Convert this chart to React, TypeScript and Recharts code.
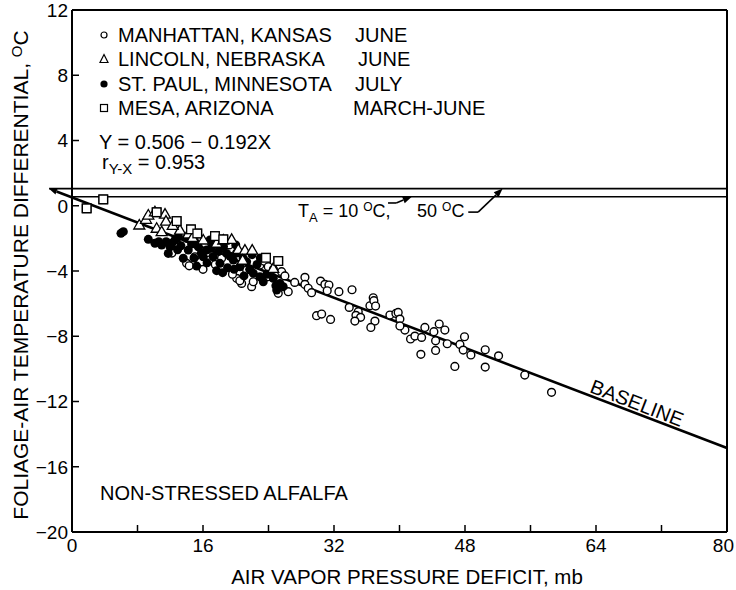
import React from 'react';
import { ScatterChart, Scatter, XAxis, YAxis, ReferenceLine } from 'recharts';

const FONT = '"Liberation Sans", Arial, Helvetica, sans-serif';

const xTicks = [0, 8, 16, 24, 32, 40, 48, 56, 64, 72, 80];
const xLabelTicks = [0, 16, 32, 48, 64, 80];
const yTicks = [-20, -16, -12, -8, -4, 0, 4, 8, 12];

const legendSites = ['MANHATTAN, KANSAS', 'LINCOLN, NEBRASKA', 'ST. PAUL, MINNESOTA', 'MESA, ARIZONA'];
const legendMonths = ['JUNE', 'JUNE', 'JULY', 'MARCH-JUNE'];

// regression: Y = 0.506 - 0.192X
const intercept = 0.506;
const slope = -0.192;
const baselineX = [-2.8, 80];

const tempLineUpper = 1.05; // T_A = 50 C
const tempLineLower = 0.55; // T_A = 10 C

const manhattan = [
  { x: 12.98, y: -2.41 }, { x: 14.0, y: -3.53 }, { x: 14.32, y: -3.68 }, { x: 15.02, y: -3.13 },
  { x: 16.4, y: -2.9 }, { x: 17.06, y: -2.3 }, { x: 17.5, y: -3.6 }, { x: 18.27, y: -3.22 },
  { x: 19.2, y: -2.4 }, { x: 20.11, y: -4.45 }, { x: 20.72, y: -4.76 }, { x: 20.5, y: -4.6 },
  { x: 21.33, y: -3.94 }, { x: 21.94, y: -4.96 }, { x: 22.14, y: -4.66 }, { x: 22.95, y: -3.63 },
  { x: 23.5, y: -3.4 }, { x: 23.97, y: -3.74 }, { x: 23.97, y: -4.35 }, { x: 24.6, y: -3.9 },
  { x: 25.6, y: -4.04 }, { x: 25.19, y: -5.37 }, { x: 26.41, y: -5.27 }, { x: 26.0, y: -4.3 },
  { x: 27.2, y: -4.7 }, { x: 16.0, y: -3.9 }, { x: 19.6, y: -4.2 }, { x: 12.2, y: -2.9 },
  { x: 28.45, y: -4.39 }, { x: 28.45, y: -4.82 }, { x: 28.85, y: -5.06 }, { x: 29.26, y: -5.33 },
  { x: 30.36, y: -4.62 }, { x: 30.89, y: -4.82 }, { x: 31.38, y: -4.86 }, { x: 31.17, y: -5.21 },
  { x: 32.6, y: -5.27 }, { x: 34.2, y: -5.15 }, { x: 29.87, y: -6.74 }, { x: 30.49, y: -6.64 },
  { x: 31.58, y: -6.97 }, { x: 33.86, y: -6.23 }, { x: 34.96, y: -6.5 }, { x: 34.68, y: -6.72 },
  { x: 35.25, y: -6.84 }, { x: 34.55, y: -7.07 }, { x: 36.39, y: -6.13 }, { x: 36.79, y: -5.64 },
  { x: 36.87, y: -5.82 }, { x: 37.08, y: -6.15 }, { x: 37.0, y: -7.07 }, { x: 36.5, y: -7.46 },
  { x: 38.83, y: -6.7 }, { x: 39.56, y: -6.6 }, { x: 39.84, y: -6.54 }, { x: 40.05, y: -6.95 },
  { x: 40.66, y: -7.62 }, { x: 40.05, y: -7.37 }, { x: 41.35, y: -8.17 }, { x: 41.88, y: -7.99 },
  { x: 42.7, y: -8.07 }, { x: 43.1, y: -7.46 }, { x: 42.61, y: -9.11 }, { x: 44.2, y: -7.72 },
  { x: 44.41, y: -8.28 }, { x: 44.41, y: -8.87 }, { x: 44.85, y: -7.25 }, { x: 45.54, y: -7.62 },
  { x: 45.83, y: -8.46 }, { x: 46.76, y: -9.85 }, { x: 47.38, y: -8.5 }, { x: 47.78, y: -8.85 },
  { x: 47.94, y: -8.03 }, { x: 48.72, y: -9.15 }, { x: 50.47, y: -8.83 }, { x: 50.47, y: -9.89 },
  { x: 52.1, y: -9.2 }, { x: 55.3, y: -10.38 }, { x: 58.57, y: -11.44 },
];

const stPaul = [
  { x: 5.98, y: -1.69 }, { x: 6.27, y: -1.59 }, { x: 9.32, y: -2.06 }, { x: 10.13, y: -2.3 },
  { x: 10.6, y: -2.2 }, { x: 10.95, y: -2.41 }, { x: 11.5, y: -2.2 }, { x: 11.97, y: -2.51 },
  { x: 11.76, y: -2.92 }, { x: 12.58, y: -2.1 }, { x: 12.9, y: -2.7 }, { x: 13.3, y: -2.45 },
  { x: 13.59, y: -3.22 }, { x: 14.0, y: -2.0 }, { x: 14.2, y: -2.72 }, { x: 14.6, y: -2.35 },
  { x: 15.23, y: -3.7 }, { x: 15.42, y: -2.51 }, { x: 15.8, y: -2.9 }, { x: 16.03, y: -3.13 },
  { x: 16.44, y: -2.72 }, { x: 16.85, y: -2.1 }, { x: 17.0, y: -2.6 }, { x: 17.25, y: -3.13 },
  { x: 17.66, y: -3.98 }, { x: 17.9, y: -2.8 }, { x: 18.07, y: -3.53 }, { x: 18.5, y: -2.5 },
  { x: 18.88, y: -2.92 }, { x: 19.3, y: -3.1 }, { x: 19.7, y: -3.33 }, { x: 20.1, y: -2.9 },
  { x: 20.51, y: -3.74 }, { x: 20.9, y: -3.2 }, { x: 21.33, y: -3.43 }, { x: 21.7, y: -3.9 },
  { x: 22.14, y: -4.14 }, { x: 22.6, y: -3.6 }, { x: 22.95, y: -4.35 }, { x: 23.36, y: -4.66 },
  { x: 23.8, y: -4.2 }, { x: 24.58, y: -4.45 }, { x: 24.9, y: -4.9 }, { x: 25.4, y: -4.76 },
  { x: 25.8, y: -4.96 }, { x: 25.0, y: -5.17 }, { x: 19.0, y: -3.8 }, { x: 16.5, y: -3.5 },
  { x: 13.0, y: -1.9 }, { x: 15.0, y: -2.2 }, { x: 21.0, y: -4.3 }, { x: 23.0, y: -3.2 },
  { x: 18.4, y: -4.1 }, { x: 20.0, y: -2.4 }, { x: 14.9, y: -3.2 }, { x: 12.2, y: -2.3 },
  { x: 17.3, y: -2.3 }, { x: 19.8, y: -3.9 }, { x: 22.0, y: -3.0 },
];

const lincoln = [
  { x: 8.22, y: -1.18 }, { x: 9.04, y: -0.83 }, { x: 9.32, y: -0.57 }, { x: 10.13, y: -0.37 },
  { x: 11.36, y: -0.51 }, { x: 11.48, y: -0.94 }, { x: 10.34, y: -1.38 }, { x: 10.95, y: -1.59 },
  { x: 13.19, y: -1.49 }, { x: 14.2, y: -1.73 }, { x: 14.73, y: -1.94 }, { x: 16.03, y: -2.1 },
  { x: 17.66, y: -2.3 }, { x: 18.48, y: -2.1 }, { x: 19.5, y: -2.06 }, { x: 20.31, y: -2.67 },
  { x: 21.12, y: -2.72 }, { x: 22.01, y: -2.72 }, { x: 20.84, y: -3.33 }, { x: 24.58, y: -3.84 },
  { x: 12.3, y: -1.2 },
];

const mesa = [
  { x: 1.79, y: -0.16 }, { x: 3.82, y: 0.39 }, { x: 10.34, y: -0.4 }, { x: 12.78, y: -0.94 },
  { x: 14.53, y: -1.45 }, { x: 17.46, y: -1.86 }, { x: 18.48, y: -2.06 }, { x: 23.69, y: -3.19 },
  { x: 25.19, y: -3.39 }, { x: 15.3, y: -1.7 },
];

const fmt = (v: number) => (v < 0 ? '\u2212' + Math.abs(v) : String(v));

const BottomTick = (p: any) => {
  const v = p.payload.value;
  const last = v === 80;
  return (
    <g>
      <line x1={p.x} y1={p.y} x2={p.x} y2={p.y - 7} stroke="#000" strokeWidth={1.5} />
      {xLabelTicks.includes(v) && (
        <text
          x={last ? p.x + 7 : p.x}
          y={p.y + 20}
          textAnchor={last ? 'end' : 'middle'}
          fontSize={19}
          fontFamily={FONT}
          fill="#000"
        >
          {fmt(v)}
        </text>
      )}
    </g>
  );
};
const LeftTick = (p: any) => (
  <g>
    <line x1={p.x} y1={p.y} x2={p.x + 7} y2={p.y} stroke="#000" strokeWidth={1.5} />
    <text x={p.x - 4} y={p.y} dy="0.36em" textAnchor="end" fontSize={19} fontFamily={FONT} fill="#000">
      {fmt(p.payload.value)}
    </text>
  </g>
);

const arrowLine = (p: any) => {
  const { x1, y1, x2, y2 } = p;
  const dx = x2 - x1;
  const dy = y2 - y1;
  const len = Math.sqrt(dx * dx + dy * dy) || 1;
  const ux = dx / len;
  const uy = dy / len;
  const L = 9;
  const W = 3.5;
  const bx = x2 - ux * L;
  const by = y2 - uy * L;
  const pts = `${x2},${y2} ${bx - uy * W},${by + ux * W} ${bx + uy * W},${by - ux * W}`;
  return (
    <g>
      <line x1={x1} y1={y1} x2={bx} y2={by} stroke="#000" strokeWidth={1.6} />
      <polygon points={pts} fill="#000" />
    </g>
  );
};

const baselineShape = (p: any) => {
  const { x1, y1, x2, y2 } = p;
  const dx = x1 - x2;
  const dy = y1 - y2;
  const len = Math.sqrt(dx * dx + dy * dy) || 1;
  const ux = dx / len;
  const uy = dy / len;
  const L = 8;
  const W = 3;
  const bx = x1 - ux * L;
  const by = y1 - uy * L;
  const pts = `${x1},${y1} ${bx - uy * W},${by + ux * W} ${bx + uy * W},${by - ux * W}`;
  return (
    <g>
      <line x1={bx} y1={by} x2={x2} y2={y2} stroke="#000" strokeWidth={2.6} />
      <polygon points={pts} fill="#000" />
    </g>
  );
};

const OpenCircle = (p: any) => (
  <circle cx={p.cx} cy={p.cy} r={3.9} fill="#fff" stroke="#000" strokeWidth={1.4} />
);
const FilledCircle = (p: any) => <circle cx={p.cx} cy={p.cy} r={4.5} fill="#000" stroke="none" />;
const OpenTriangle = (p: any) => (
  <polygon
    points={`${p.cx},${p.cy - 5.5} ${p.cx + 5.5},${p.cy + 4} ${p.cx - 5.5},${p.cy + 4}`}
    fill="#fff"
    stroke="#000"
    strokeWidth={1.3}
  />
);
const OpenSquare = (p: any) => (
  <rect x={p.cx - 4.3} y={p.cy - 4.3} width={8.6} height={8.6} fill="#fff" stroke="#000" strokeWidth={1.3} />
);

const LegendSymbol = ({ i }: { i: number }) => (
  <svg width={14} height={14} style={{ position: 'absolute', left: -21, top: 3 }}>
    {i === 0 && <circle cx={7} cy={7} r={3} fill="#fff" stroke="#000" strokeWidth={1.2} />}
    {i === 1 && <polygon points="7,2.5 11,10.5 3,10.5" fill="#fff" stroke="#000" strokeWidth={1.2} />}
    {i === 2 && <circle cx={7} cy={7} r={3.6} fill="#000" />}
    {i === 3 && <rect x={3.5} y={3.5} width={7} height={7} fill="#fff" stroke="#000" strokeWidth={1.2} />}
  </svg>
);

const legendCenters = [35, 59, 84, 108];
const monthLefts = [355, 358, 355, 353];

export default function App() {
  const baselineSeg = baselineX.map((x) => ({ x, y: intercept + slope * x }));
  const text: React.CSSProperties = {
    position: 'absolute',
    fontSize: 20,
    lineHeight: '20px',
    whiteSpace: 'nowrap',
    color: '#000',
    fontFamily: FONT,
  };
  return (
    <div style={{ position: 'absolute', left: 0, top: 0, width: 736, height: 590, background: '#fff', fontFamily: FONT }}>
      <ScatterChart width={736} height={590} margin={{ top: 0, right: 0, bottom: 0, left: 0 }}>
        <XAxis
          xAxisId="b"
          type="number"
          dataKey="x"
          domain={[0, 80]}
          ticks={xTicks}
          orientation="bottom"
          height={58}
          axisLine={{ stroke: '#000', strokeWidth: 2 }}
          tickLine={false}
          tickSize={0}
          tickMargin={0}
          tick={<BottomTick />}
          interval={0}
          allowDataOverflow
        />
        <XAxis
          xAxisId="t"
          type="number"
          dataKey="x"
          domain={[0, 80]}
          ticks={xTicks}
          orientation="top"
          height={10}
          axisLine={{ stroke: '#000', strokeWidth: 2 }}
          tickLine={{ stroke: '#000', strokeWidth: 1.5 }}
          tickSize={-7}
          tick={false}
          interval={0}
          allowDataOverflow
        />
        <YAxis
          yAxisId="l"
          type="number"
          dataKey="y"
          domain={[-20, 12]}
          ticks={yTicks}
          orientation="left"
          width={72}
          axisLine={{ stroke: '#000', strokeWidth: 2 }}
          tickLine={false}
          tickSize={0}
          tickMargin={0}
          tick={<LeftTick />}
          interval={0}
          allowDataOverflow
        />
        <YAxis
          yAxisId="r"
          type="number"
          dataKey="y"
          domain={[-20, 12]}
          ticks={yTicks}
          orientation="right"
          width={9}
          axisLine={{ stroke: '#000', strokeWidth: 2 }}
          tickLine={{ stroke: '#000', strokeWidth: 1.5 }}
          tickSize={-7}
          tick={false}
          interval={0}
          allowDataOverflow
        />
        <ReferenceLine
          xAxisId="b"
          yAxisId="l"
          segment={[{ x: -2.8, y: tempLineUpper }, { x: 80, y: tempLineUpper }]}
          stroke="#000"
          strokeWidth={1.6}
          ifOverflow="visible"
        />
        <ReferenceLine
          xAxisId="b"
          yAxisId="l"
          segment={[{ x: 0, y: tempLineLower }, { x: 80, y: tempLineLower }]}
          stroke="#000"
          strokeWidth={1.6}
          ifOverflow="visible"
        />
        <ReferenceLine
          xAxisId="b"
          yAxisId="l"
          segment={baselineSeg}
          shape={baselineShape}
          ifOverflow="visible"
        />
        <ReferenceLine
          xAxisId="b"
          yAxisId="l"
          segment={[{ x: 38.6, y: 0.17 }, { x: 39.6, y: 0.17 }]}
          stroke="#000"
          strokeWidth={1.6}
          ifOverflow="visible"
        />
        <ReferenceLine
          xAxisId="b"
          yAxisId="l"
          segment={[{ x: 39.6, y: 0.17 }, { x: 41.5, y: tempLineLower }]}
          shape={arrowLine}
          ifOverflow="visible"
        />
        <ReferenceLine
          xAxisId="b"
          yAxisId="l"
          segment={[{ x: 48.4, y: -0.39 }, { x: 49.6, y: -0.39 }]}
          stroke="#000"
          strokeWidth={1.6}
          ifOverflow="visible"
        />
        <ReferenceLine
          xAxisId="b"
          yAxisId="l"
          segment={[{ x: 49.6, y: -0.39 }, { x: 52.6, y: tempLineUpper }]}
          shape={arrowLine}
          ifOverflow="visible"
        />
        <Scatter xAxisId="t" yAxisId="r" data={mesa} shape={OpenSquare} isAnimationActive={false} />
        <Scatter xAxisId="b" yAxisId="l" data={manhattan} shape={OpenCircle} isAnimationActive={false} />
        <Scatter xAxisId="b" yAxisId="l" data={stPaul} shape={FilledCircle} isAnimationActive={false} />
        <Scatter xAxisId="b" yAxisId="l" data={lincoln} shape={OpenTriangle} isAnimationActive={false} />
        <Scatter xAxisId="b" yAxisId="l" data={mesa} shape={OpenSquare} isAnimationActive={false} />
      </ScatterChart>

      {legendSites.map((s, i) => (
        <React.Fragment key={s}>
          <div style={{ ...text, left: 118, top: legendCenters[i] - 10 }}>
            <LegendSymbol i={i} />
            {s}
          </div>
          <div style={{ ...text, left: monthLefts[i], top: legendCenters[i] - 10 }}>{legendMonths[i]}</div>
        </React.Fragment>
      ))}
      <div style={{ ...text, left: 99, top: 142 - 10 }}>Y = 0.506 {'\u2212'} 0.192X</div>
      <div style={{ ...text, left: 102, top: 162 - 10 }}>
        r<span style={{ fontSize: 15, position: 'relative', top: 5 }}>Y-X</span> = 0.953
      </div>
      <div style={{ ...text, fontSize: 18, left: 298, top: 211 - 10 }}>
        T<span style={{ fontSize: 13, position: 'relative', top: 5 }}>A</span> = 10{' '}
        <span style={{ fontSize: 12, position: 'relative', top: -6 }}>O</span>C,
      </div>
      <div style={{ ...text, fontSize: 18, left: 417, top: 211 - 10 }}>
        50 <span style={{ fontSize: 12, position: 'relative', top: -6 }}>O</span>C
      </div>
      <div style={{ ...text, left: 100, top: 493 - 10 }}>NON-STRESSED ALFALFA</div>
      <div
        style={{
          ...text,
          left: 637 - 60,
          top: 403 - 10,
          width: 120,
          textAlign: 'center',
          transform: 'rotate(21deg)',
          transformOrigin: 'center',
        }}
      >
        BASELINE
      </div>
      <div style={{ ...text, fontSize: 20.5, left: 107, top: 577 - 10, width: 600, textAlign: 'center' }}>
        AIR VAPOR PRESSURE DEFICIT, mb
      </div>
      <div
        style={{
          ...text,
          fontSize: 21,
          left: 22 - 280,
          top: 274 - 10,
          width: 560,
          textAlign: 'center',
          transform: 'rotate(-90deg)',
          transformOrigin: 'center',
        }}
      >
        FOLIAGE-AIR TEMPERATURE DIFFERENTIAL,{' '}
        <span style={{ fontSize: 15, position: 'relative', top: -6 }}>O</span>C
      </div>
    </div>
  );
}
